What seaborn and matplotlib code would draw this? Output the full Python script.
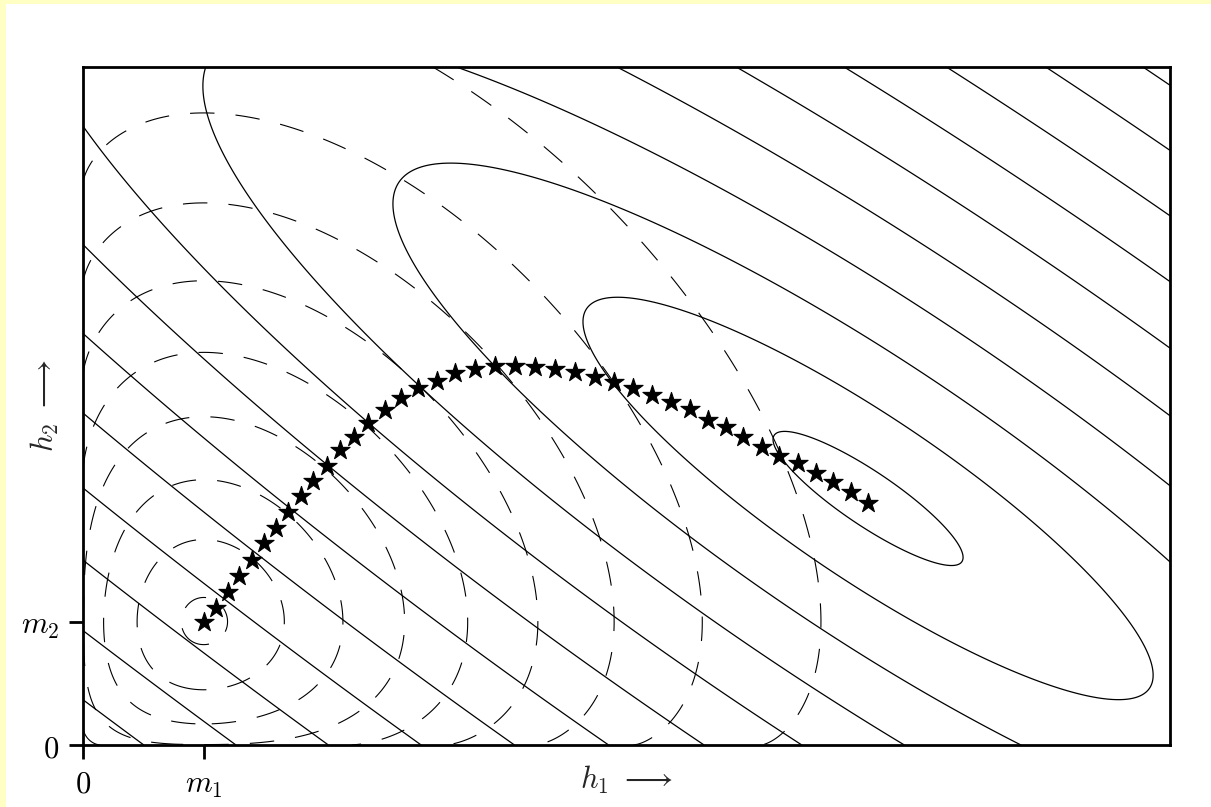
import numpy as np
import matplotlib
matplotlib.use("Agg")
import matplotlib.pyplot as plt
import seaborn as sns
from matplotlib.patches import Rectangle

# ---------------- data ----------------
# path of the estimate (stars), from m = (m1, m2) to the likelihood centre
h1_path = [1.00, 1.099, 1.198, 1.294, 1.397, 1.499, 1.598, 1.700, 1.805, 1.907,
           2.018, 2.128, 2.246, 2.362, 2.500, 2.630, 2.776, 2.928, 3.080, 3.246,
           3.411, 3.577, 3.742, 3.908, 4.073, 4.239, 4.396, 4.554, 4.711, 4.868,
           5.025, 5.177, 5.324, 5.467, 5.619, 5.763, 5.917, 6.069, 6.212, 6.359,
           6.502]
h2_path = [1.00, 1.109, 1.244, 1.373, 1.501, 1.636, 1.758, 1.893, 2.020, 2.144,
           2.263, 2.393, 2.501, 2.610, 2.718, 2.813, 2.894, 2.955, 3.015, 3.048,
           3.075, 3.075, 3.069, 3.054, 3.026, 2.985, 2.941, 2.892, 2.839, 2.783,
           2.726, 2.637, 2.577, 2.501, 2.420, 2.344, 2.285, 2.209, 2.136, 2.050,
           1.966]

prior_mean = [1.0, 1.0]                 # (m1, m2)
prior_power = 0.7                       # dashed contours are circles in h**0.7
prior_levels = [0.134, 0.43, 0.71, 0.985, 1.25, 1.53, 1.82, 2.14, 2.55]

lik_centre = [6.5, 2.0]                 # centre of the solid ellipses
lik_cov = [[0.619, -0.376], [-0.376, 0.296]]
lik_levels = [1, 3, 5, 7, 9, 11, 13, 15, 17, 19, 21, 23, 25, 27]

x_limits = [0, 9]
y_limits = [0, 5.5]
xtick_pos = [0, 1]
xtick_labels = [r"$0$", r"$m_1$"]
ytick_pos = [0, 1]
ytick_labels = [r"$0$", r"$m_2$"]
x_label = r"$h_1\ \longrightarrow$"
y_label = r"$h_2\ \longrightarrow$"

# ---------------- style ----------------
sns.set_theme(style="white")
plt.rcParams["font.family"] = ["DejaVu Serif"]
plt.rcParams["mathtext.fontset"] = "cm"

W, H = 1211, 807
fig = plt.figure(figsize=(W / 100, H / 100), dpi=100, facecolor="#FFFFC4")
fig.add_artist(Rectangle((6 / W, 0), 1, 1 - 4 / H, transform=fig.transFigure,
                         facecolor="white", edgecolor="none", zorder=-10))
ax = fig.add_axes([83 / W, (H - 745) / H, 1087 / W, 678 / H])
ax.set_facecolor("white")

# ---------------- contour fields ----------------
gx = np.linspace(x_limits[0], x_limits[1], 1200)
gy = np.linspace(y_limits[0], y_limits[1], 800)
X, Y = np.meshgrid(gx, gy)

Sinv = np.linalg.inv(np.array(lik_cov))
dx = X - lik_centre[0]
dy = Y - lik_centre[1]
Q = np.sqrt(Sinv[0, 0] * dx**2 + 2 * Sinv[0, 1] * dx * dy + Sinv[1, 1] * dy**2)
ax.contour(X, Y, Q, levels=lik_levels, colors="black", linewidths=0.9)

P = np.sqrt(((X / prior_mean[0]) ** prior_power - 1) ** 2 +
            ((Y / prior_mean[1]) ** prior_power - 1) ** 2)
ax.contour(X, Y, P, levels=prior_levels, colors="black", linewidths=0.8,
           linestyles=[(0, (22, 19))])

# ---------------- star path ----------------
sns.scatterplot(x=h1_path, y=h2_path, marker="*", s=210, color="black",
                edgecolor="black", linewidth=0.8, ax=ax, zorder=5, legend=False)

# ---------------- axes ----------------
ax.set_xlim(*x_limits)
ax.set_ylim(*y_limits)
ax.set_xticks(xtick_pos)
ax.set_xticklabels(xtick_labels)
ax.set_yticks(ytick_pos)
ax.set_yticklabels(ytick_labels)
ax.tick_params(bottom=True, left=True, direction="out", length=10, width=2,
               labelsize=22, pad=7, colors="black")
for s in ax.spines.values():
    s.set_visible(True)
    s.set_color("black")
    s.set_linewidth(2)

ax.set_xlabel(x_label, fontsize=22, va="center")
ax.xaxis.set_label_coords(0.5, -0.052)
ax.set_ylabel(y_label, fontsize=22, va="center")
ax.yaxis.set_label_coords(-0.035, 0.5)

fig.savefig("out.png", dpi=100, facecolor=fig.get_facecolor())
